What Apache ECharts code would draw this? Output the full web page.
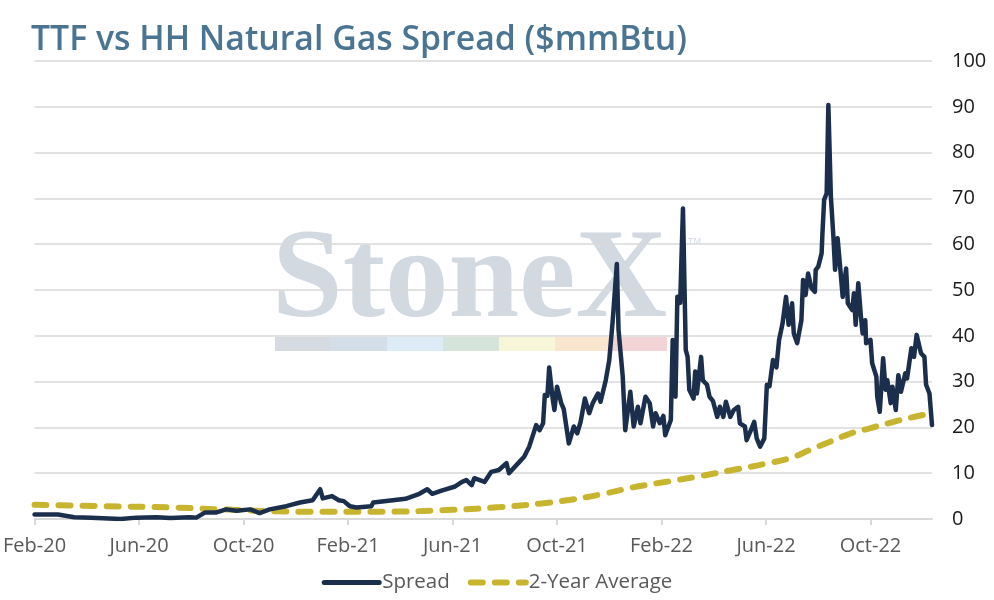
<!DOCTYPE html>
<html>
<head>
<meta charset="utf-8">
<script src="https://cdn.jsdelivr.net/npm/echarts@6/dist/echarts.min.js"></script>
<style>
html,body{margin:0;padding:0;background:#fff;}
#chart{width:994px;height:600px;}
</style>
</head>
<body>
<div id="chart"></div>
<script>
const tickLabels = ['Feb-20','Jun-20','Oct-20','Feb-21','Jun-21','Oct-21','Feb-22','Jun-22','Oct-22'];

const spreadDates = [
'2020-02-01','2020-02-27','2020-03-17','2020-04-06','2020-05-10','2020-05-29','2020-06-21','2020-07-07','2020-07-30','2020-08-07',
'2020-08-17','2020-08-30','2020-09-11','2020-09-23','2020-10-09','2020-10-20','2020-11-01','2020-11-20','2020-12-06','2020-12-21',
'2020-12-30','2021-01-02','2021-01-13','2021-01-21','2021-01-27','2021-02-03','2021-02-10','2021-02-26','2021-02-28','2021-03-18',
'2021-04-07','2021-04-23','2021-05-02','2021-05-08','2021-05-19','2021-06-04','2021-06-12','2021-06-17','2021-06-23','2021-06-26',
'2021-07-08','2021-07-16','2021-07-25','2021-08-03','2021-08-06','2021-08-17','2021-08-24','2021-08-30','2021-09-04','2021-09-07',
'2021-09-11','2021-09-15','2021-09-17','2021-09-20','2021-09-22','2021-09-26','2021-09-28','2021-10-01','2021-10-06','2021-10-09',
'2021-10-15','2021-10-21','2021-10-25','2021-10-29','2021-11-03','2021-11-08','2021-11-12','2021-11-18','2021-11-21','2021-11-27',
'2021-12-01','2021-12-05','2021-12-07','2021-12-10','2021-12-12','2021-12-17','2021-12-20','2021-12-26','2021-12-30','2022-01-04',
'2022-01-07','2022-01-13','2022-01-18','2022-01-22','2022-01-25','2022-01-30','2022-02-03','2022-02-05','2022-02-11','2022-02-13',
'2022-02-16','2022-02-18','2022-02-21','2022-02-24','2022-02-27','2022-03-01','2022-03-03','2022-03-08','2022-03-10','2022-03-12',
'2022-03-17','2022-03-19','2022-03-24','2022-03-27','2022-03-31','2022-04-05','2022-04-08','2022-04-12','2022-04-15','2022-04-20',
'2022-04-24','2022-04-29','2022-05-01','2022-05-07','2022-05-09','2022-05-15','2022-05-18','2022-05-21','2022-05-25','2022-05-30',
'2022-06-02','2022-06-05','2022-06-09','2022-06-13','2022-06-16','2022-06-20','2022-06-24','2022-06-27','2022-07-01','2022-07-03',
'2022-07-07','2022-07-12','2022-07-14','2022-07-17','2022-07-20','2022-07-24','2022-07-28','2022-07-29','2022-08-01','2022-08-05',
'2022-08-06','2022-08-08','2022-08-11','2022-08-13','2022-08-16','2022-08-19','2022-08-21','2022-08-24','2022-08-28','2022-08-30',
'2022-09-03','2022-09-05','2022-09-10','2022-09-12','2022-09-14','2022-09-17','2022-09-20','2022-09-22','2022-09-25','2022-09-26',
'2022-10-01','2022-10-03','2022-10-08','2022-10-09','2022-10-12','2022-10-16','2022-10-19','2022-10-21','2022-10-25','2022-10-27',
'2022-10-31','2022-11-03','2022-11-06','2022-11-11','2022-11-13','2022-11-18','2022-11-21','2022-11-24','2022-11-29','2022-12-03',
'2022-12-05','2022-12-09','2022-12-12'
];
const spreadValues = [
1.0,1.0,0.4,0.3,0.0,0.3,0.4,0.2,0.4,0.3,
1.4,1.4,2.1,1.8,2.1,1.3,2.1,2.8,3.6,4.1,
6.5,4.5,5.0,4.1,3.9,2.8,2.5,2.8,3.6,4.0,
4.4,5.5,6.5,5.5,6.2,7.1,8.1,8.5,7.4,8.9,
8.1,10.3,10.7,12.2,10.0,12.2,13.6,15.8,18.7,20.5,
19.4,20.9,27.1,26.9,33.1,26.3,23.8,28.9,25.3,24.0,
16.5,20.2,18.7,21.2,26.3,23.1,25.3,27.4,25.6,30.3,
34.7,43.1,43.5,55.7,41.3,31.1,19.4,27.8,20.2,24.5,
20.9,26.7,25.3,20.2,23.1,20.9,22.5,18.3,21.6,39.1,
26.7,48.5,47.2,67.8,36.9,35.4,28.2,26.3,32.2,27.4,
35.4,30.3,29.3,26.7,25.8,22.3,24.5,22.3,25.6,22.3,
23.8,24.5,20.9,20.2,17.2,19.8,21.2,17.6,15.8,17.6,
29.3,29.0,34.7,33.1,39.1,42.7,48.5,42.4,47.1,40.5,
38.4,43.4,52.2,48.9,53.6,50.4,49.6,54.4,55.1,58.0,
62.4,69.7,71.1,90.4,70.4,61.6,54.4,61.3,52.9,48.5,
54.7,47.1,45.6,49.3,42.4,51.5,44.2,40.5,43.4,38.4,
39.1,34.0,31.1,26.7,23.4,35.1,28.2,30.3,25.3,28.9,
23.8,31.4,27.8,31.8,30.7,37.3,35.4,40.2,36.2,35.4,
29.3,27.4,20.5
];

const avgDates = [
'2020-02-01','2020-04-20','2020-07-11','2020-09-19','2020-12-09','2021-03-10','2021-06-01','2021-07-27','2021-09-13','2021-10-17',
'2021-11-22','2021-12-29','2022-02-08','2022-03-17','2022-04-20','2022-05-30','2022-06-29','2022-07-21','2022-08-14','2022-09-07',
'2022-09-30','2022-10-22','2022-11-14','2022-12-12'
];
const avgValues = [
3.1,2.8,2.5,2.0,1.6,1.6,2.0,2.6,3.4,4.2,
5.4,6.9,8.2,9.4,10.6,12.0,13.3,15.0,16.8,18.6,
19.8,20.9,22.0,23.1
];

function monthsSinceStart(s) {
  const p = s.split('-').map(Number);
  const dim = new Date(p[0], p[1], 0).getDate();
  return (p[0] - 2020) * 12 + (p[1] - 2) + (p[2] - 1) / dim;
}
const spreadData = spreadDates.map((d, i) => [monthsSinceStart(d), spreadValues[i]]);
const avgData = avgDates.map((d, i) => [monthsSinceStart(d), avgValues[i]]);
const xMax = monthsSinceStart(spreadDates[spreadDates.length - 1]);

const chart = echarts.init(document.getElementById('chart'));
const barColors = ['#D6DBE1','#D3DEE9','#DDEBF6','#D5E4DA','#F8F6D8','#FAE6CF','#F2D4D6'];
const graphics = [
  {type:'text', left:272, top:220, z:-10, silent:true,
   style:{text:'StoneX', font:'bold 127px "Liberation Serif"', fill:'#D2D9E1'}},
  {type:'text', left:688, top:237, z:-10, silent:true,
   style:{text:'TM', font:'9px "Liberation Sans"', fill:'#D2D9E1'}}
];
barColors.forEach((c, i) => {
  graphics.push({type:'rect', left:275 + i*56, top:337, z:-10, silent:true,
    shape:{width:56, height:14}, style:{fill:c}});
});

chart.setOption({
  animation:false,
  title:{
    text:'TTF vs HH Natural Gas Spread ($mmBtu)',
    left:26, top:18,
    textStyle:{fontFamily:'Open Sans', fontWeight:600, fontSize:33.8, color:'#4A7491'}
  },
  graphic:graphics,
  legend:{
    bottom:2, left:'center',
    itemWidth:55, itemHeight:14, itemGap:18,
    itemStyle:{opacity:0},
    textStyle:{fontFamily:'Open Sans', fontSize:20.5, color:'#595959', padding:[0,0,0,-2]},
    data:[
      {name:'Spread', lineStyle:{width:5, color:'#1B2F4C', cap:'round'}},
      {name:'2-Year Average', lineStyle:{width:6, color:'#C8B52F', type:[12,12], cap:'round'}}
    ]
  },
  grid:{left:30, right:62, top:61, bottom:81},
  xAxis:{
    type:'value', min:0, max:xMax, interval:4,
    axisLine:{show:true, lineStyle:{color:'#D9D9D9', width:2}},
    axisTick:{show:true, length:6, lineStyle:{color:'#D9D9D9', width:2}},
    splitLine:{show:false},
    axisLabel:{
      showMaxLabel:false, margin:17,
      fontFamily:'Open Sans', fontSize:20, color:'#595959',
      formatter:function(v){ const i = Math.round(v/4); return tickLabels[i] || ''; }
    }
  },
  yAxis:{
    type:'value', position:'right', min:0, max:100, interval:10,
    axisLine:{show:false}, axisTick:{show:false},
    splitLine:{show:true, lineStyle:{color:'#D9D9D9', width:1.5}},
    axisLabel:{margin:20, fontFamily:'Open Sans', fontSize:20, color:'#1a1a1a'}
  },
  series:[
    {name:'Spread', type:'line', data:spreadData, symbol:'none', z:3,
     lineStyle:{color:'#1B2F4C', width:4.5, join:'round', cap:'round'},
     itemStyle:{color:'#1B2F4C'}},
    {name:'2-Year Average', type:'line', data:avgData, symbol:'none', smooth:0.4, z:2,
     lineStyle:{color:'#C8B52F', width:6, type:[12,12], cap:'round'},
     itemStyle:{color:'#C8B52F'}}
  ]
});
</script>
</body>
</html>
